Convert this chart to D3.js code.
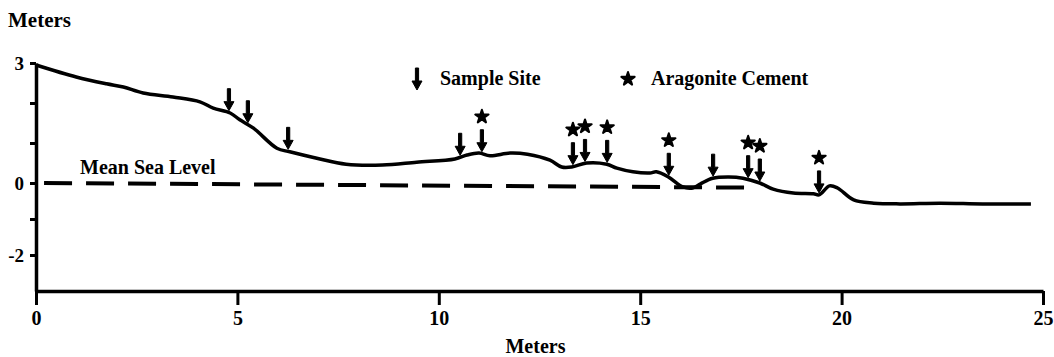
<!DOCTYPE html>
<html>
<head>
<meta charset="utf-8">
<title>Beach profile</title>
<script src="https://d3js.org/d3.v7.min.js"></script>
<style>
  body { margin: 0; background: #fff; }
  text { font-family: "Liberation Serif", serif; font-weight: bold; fill: #000; }
</style>
</head>
<body>
<div id="chart"></div>
<script>
// profile (distance m, elevation m)
const profileX = [0, 1.0, 1.75, 2.17, 2.66, 3.4, 4.07, 4.4, 4.82, 5.06, 5.4, 5.98, 6.3, 6.97, 7.7, 8.6, 9.45, 10.4, 10.7, 11.0, 11.27, 11.77, 12.2, 12.76, 13.05, 13.3, 13.67, 14.17, 14.42, 14.82, 15.24, 15.4, 15.7, 16.06, 16.3, 16.5, 16.8, 17.2, 17.55, 17.97, 18.3, 18.8, 19.3, 19.44, 19.7, 19.9, 20.3, 20.8, 21.45, 22.44, 23.5, 24.7];
const profileY = [2.95, 2.65, 2.48, 2.4, 2.25, 2.15, 2.03, 1.87, 1.75, 1.58, 1.37, 0.87, 0.78, 0.62, 0.47, 0.45, 0.52, 0.6, 0.7, 0.75, 0.68, 0.75, 0.72, 0.57, 0.4, 0.4, 0.5, 0.47, 0.37, 0.28, 0.25, 0.28, 0.15, -0.11, -0.14, -0.02, 0.12, 0.15, 0.12, 0.0, -0.17, -0.28, -0.3, -0.33, -0.08, -0.14, -0.47, -0.56, -0.58, -0.56, -0.58, -0.58];

// sample sites along the profile, and which of them show aragonite cement
const sampleSites = [4.79, 5.26, 6.26, 10.53, 11.07, 13.33, 13.63, 14.18, 15.71, 16.81, 17.68, 17.97, 19.44];
const cementSites = [11.07, 13.33, 13.63, 14.18, 15.71, 17.68, 17.97, 19.44];

const seaLevelX = [0.2, 17.9];
const seaLevelY = [0, -0.13];

const xTicks = [0, 5, 10, 15, 20, 25];
const yTicks = [3, 2, 1, 0, -1, -2];
const yLabels = [3, 0, -2];

const W = 1054, H = 357;

const svg = d3.select("#chart").append("svg")
    .attr("width", W)
    .attr("height", H);

const x = d3.scaleLinear().domain([0, 25]).range([36, 1043]);
// hand drawn axis: spacing differs above and below sea level
const y = d3.scaleLinear().domain([-3, 0, 3]).range([291, 183, 63]);

const profile = profileX.map((d, i) => [d, profileY[i]]);
const elevAt = d3.scaleLinear().domain(profileX).range(profileY);

// axes
const xAxis = d3.axisBottom(x)
    .tickValues(xTicks)
    .tickSize(14)
    .tickSizeOuter(0)
    .tickPadding(6)
    .tickFormat(d3.format("d"));

const gx = svg.append("g")
    .attr("transform", "translate(0," + y(-3) + ")")
    .call(xAxis);
gx.select(".domain").attr("stroke-width", 3.5);
gx.selectAll(".tick line").attr("stroke-width", 3);
gx.selectAll(".tick text")
    .attr("font-size", "20px")
    .attr("font-family", "Liberation Serif")
    .attr("font-weight", "bold");

const yAxis = d3.axisLeft(y)
    .tickValues(yTicks)
    .tickSize(6)
    .tickSizeOuter(0)
    .tickPadding(6)
    .tickFormat(d => yLabels.includes(d) ? d : "");

const gy = svg.append("g")
    .attr("transform", "translate(" + x(0) + ",0)")
    .call(yAxis);
gy.select(".domain").attr("stroke-width", 3.5);
gy.selectAll(".tick line").attr("stroke-width", 3);
gy.selectAll(".tick text")
    .attr("font-size", "19px")
    .attr("font-family", "Liberation Serif")
    .attr("font-weight", "bold");

// mean sea level
svg.append("path")
    .datum(seaLevelX.map((d, i) => [d, seaLevelY[i]]))
    .attr("fill", "none")
    .attr("stroke", "#000")
    .attr("stroke-width", 4)
    .attr("stroke-dasharray", "28,14")
    .attr("d", d3.line().x(d => x(d[0])).y(d => y(d[1])));

svg.append("text")
    .attr("x", 80)
    .attr("y", 174)
    .attr("font-size", "20px")
    .text("Mean Sea Level");

// profile line
svg.append("path")
    .datum(profile)
    .attr("fill", "none")
    .attr("stroke", "#000")
    .attr("stroke-width", 3.5)
    .attr("stroke-linejoin", "round")
    .attr("d", d3.line().curve(d3.curveCatmullRom).x(d => x(d[0])).y(d => y(d[1])));

// markers
const arrowPath = "M-1.6,-22 L1.6,-22 L1.6,-9 L5,-9 L0,0 L-5,-9 L-1.6,-9 Z";
const star = d3.symbol().type(d3.symbolStar).size(55);

svg.selectAll(".site")
    .data(sampleSites)
    .enter()
    .append("path")
    .attr("class", "site")
    .attr("transform", d => "translate(" + x(d) + "," + (y(elevAt(d)) - 2) + ")")
    .attr("d", arrowPath)
    .attr("fill", "#000")
    .attr("stroke", "#000")
    .attr("stroke-linejoin", "round");

svg.selectAll(".cement")
    .data(cementSites)
    .enter()
    .append("path")
    .attr("class", "cement")
    .attr("transform", d => "translate(" + x(d) + "," + (y(elevAt(d)) - 37) + ")")
    .attr("d", star)
    .attr("fill", "#000")
    .attr("stroke", "#000")
    .attr("stroke-width", 2)
    .attr("stroke-linejoin", "round");

// legend
svg.append("path")
    .attr("transform", "translate(417,90)")
    .attr("d", arrowPath)
    .attr("fill", "#000")
    .attr("stroke", "#000")
    .attr("stroke-linejoin", "round");
svg.append("text")
    .attr("x", 440)
    .attr("y", 85)
    .attr("font-size", "20px")
    .text("Sample Site");

svg.append("path")
    .attr("transform", "translate(628,79)")
    .attr("d", star)
    .attr("fill", "#000")
    .attr("stroke", "#000")
    .attr("stroke-width", 2)
    .attr("stroke-linejoin", "round");
svg.append("text")
    .attr("x", 651)
    .attr("y", 85)
    .attr("font-size", "20px")
    .text("Aragonite Cement");

// axis titles
svg.append("text")
    .attr("x", 8)
    .attr("y", 27)
    .attr("font-size", "21px")
    .text("Meters");

svg.append("text")
    .attr("x", x(12.4))
    .attr("y", 353)
    .attr("text-anchor", "middle")
    .attr("font-size", "20px")
    .text("Meters");
</script>
</body>
</html>
